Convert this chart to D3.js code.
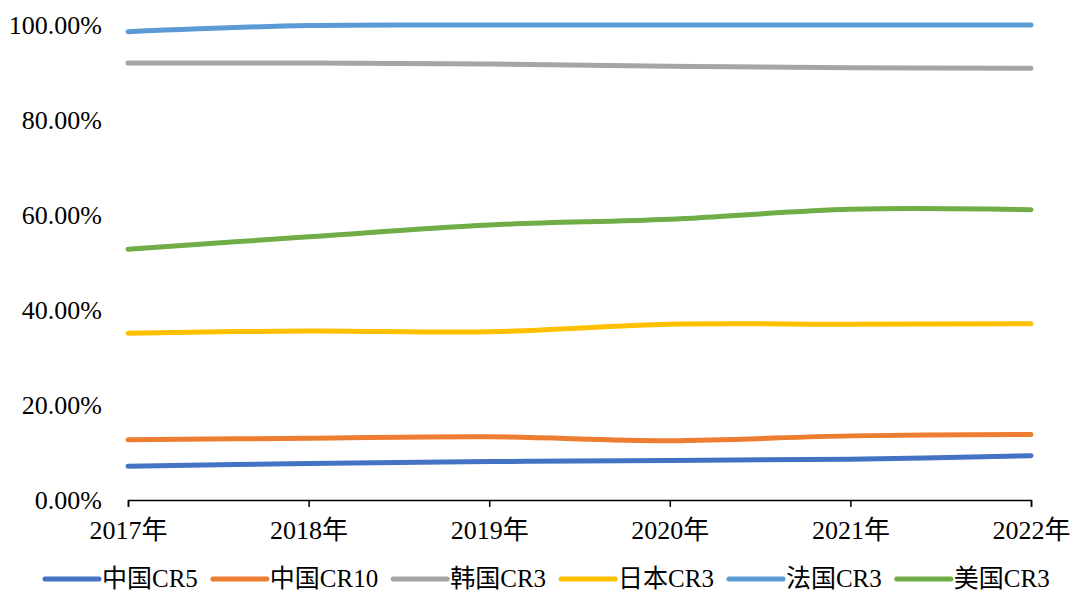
<!DOCTYPE html>
<html>
<head>
<meta charset="utf-8">
<script src="https://cdn.jsdelivr.net/npm/d3@7"></script>
<style>
  body { margin: 0; background: #fff; }
  text { font-family: "Liberation Serif", "Times New Roman", "Noto Sans CJK SC", serif; fill: #000; }
</style>
</head>
<body>
<div id="chart"></div>
<script>
const years = ["2017年", "2018年", "2019年", "2020年", "2021年", "2022年"];
const seriesNames = ["中国CR5", "中国CR10", "韩国CR3", "日本CR3", "法国CR3", "美国CR3"];
const seriesColors = ["#4472C4", "#ED7D31", "#A5A5A5", "#FFC000", "#5B9BD5", "#70AD47"];
const cnCR5 = [7.1, 7.7, 8.1, 8.3, 8.6, 9.3];
const cnCR10 = [12.7, 13.0, 13.3, 12.5, 13.5, 13.8];
const krCR3 = [92.0, 92.0, 91.8, 91.3, 91.0, 90.9];
const jpCR3 = [35.1, 35.6, 35.4, 37.0, 37.0, 37.1];
const frCR3 = [98.6, 99.9, 100, 100, 100, 100];
const usCR3 = [52.8, 55.4, 57.9, 59.1, 61.2, 61.1];
const yTicks = [0, 20, 40, 60, 80, 100];

const allSeries = [cnCR5, cnCR10, krCR3, jpCR3, frCR3, usCR3];

const width = 1072, height = 595;
const margin = {top: 25, right: 41, bottom: 95, left: 128};
const fontSize = "26px";

let svg = d3.select("#chart").append("svg")
    .attr("width", width)
    .attr("height", height);

let x = d3.scalePoint()
    .domain(years)
    .range([margin.left, width - margin.right]);

let y = d3.scaleLinear()
    .domain([0, 100])
    .range([height - margin.bottom, margin.top]);

// y labels, no axis line
svg.append("g")
  .selectAll("text")
  .data(yTicks)
  .enter().append("text")
    .attr("x", 102)
    .attr("y", d => y(d))
    .attr("dy", "0.33em")
    .attr("text-anchor", "end")
    .style("font-size", fontSize)
    .text(d => d.toFixed(2) + "%");

// x axis
let xAxis = d3.axisBottom(x).tickSize(7).tickPadding(14);
let gx = svg.append("g")
    .attr("transform", `translate(0,${y(0)})`)
    .call(xAxis);
gx.select(".domain").attr("stroke", "#000").attr("stroke-width", 1.5);
gx.selectAll(".tick line").attr("stroke", "#000").attr("stroke-width", 1.5);
gx.selectAll(".tick text")
    .style("font-size", fontSize)
    .style("font-family", '"Liberation Serif", "Times New Roman", "Noto Sans CJK SC", serif')
    .attr("fill", "#000");

let line = d3.line()
    .x((d, i) => x(years[i]))
    .y(d => y(d))
    .curve(d3.curveCatmullRom.alpha(0.5));

svg.append("g")
  .selectAll("path")
  .data(allSeries)
  .enter().append("path")
    .attr("d", line)
    .attr("fill", "none")
    .attr("stroke", (d, i) => seriesColors[i])
    .attr("stroke-width", 5)
    .attr("stroke-linecap", "round");

// legend
let legend = svg.append("g").attr("transform", "translate(0,579)");
let items = legend.selectAll("g")
  .data(seriesNames)
  .enter().append("g");

items.append("text")
    .attr("x", 59)
    .attr("dy", "0.33em")
    .style("font-size", "25px")
    .text(d => d);

let offsets = [];
let cur = 0;
items.each(function(d, i) {
  let w = this.querySelector("text").getComputedTextLength();
  offsets.push(cur);
  cur += 59 + w + 13;
});
let start = 43;

items.attr("transform", (d, i) => `translate(${start + offsets[i]},0)`);
items.append("line")
    .attr("x1", 2)
    .attr("x2", 56)
    .attr("stroke", (d, i) => seriesColors[i])
    .attr("stroke-width", 5)
    .attr("stroke-linecap", "round");
</script>
</body>
</html>
